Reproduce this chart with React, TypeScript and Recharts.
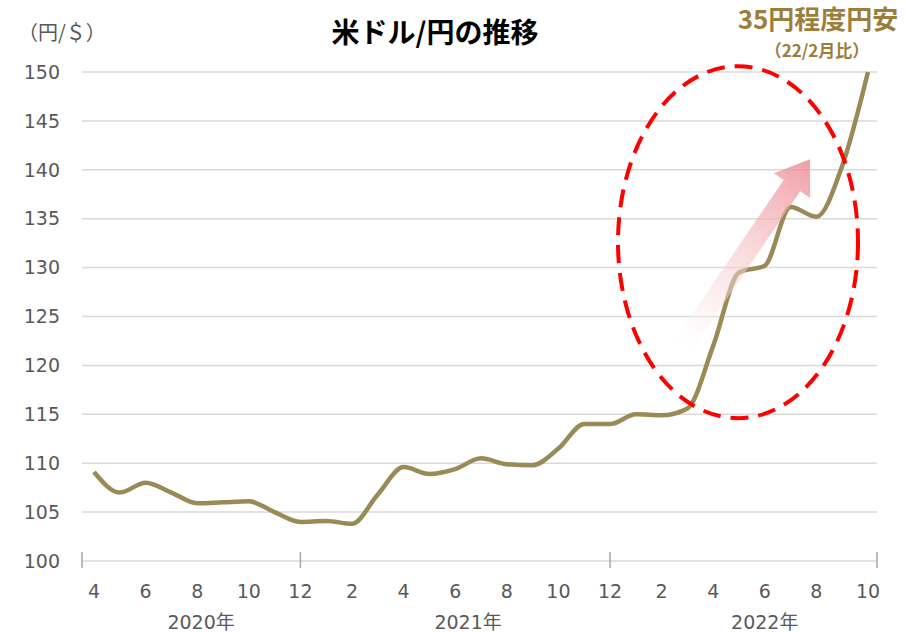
import { CartesianGrid, Line, LineChart, ReferenceDot, XAxis, YAxis } from "recharts";

const months = [
  "2020/4", "2020/5", "2020/6", "2020/7", "2020/8", "2020/9", "2020/10", "2020/11", "2020/12",
  "2021/1", "2021/2", "2021/3", "2021/4", "2021/5", "2021/6", "2021/7", "2021/8", "2021/9",
  "2021/10", "2021/11", "2021/12", "2022/1", "2022/2", "2022/3", "2022/4", "2022/5", "2022/6",
  "2022/7", "2022/8", "2022/9", "2022/10"
];

const usdJpy = [
  109.1, 107.0, 108.0, 107.0, 105.9, 106.0, 106.1, 105.0, 104.0,
  104.1, 103.8, 106.8, 109.6, 108.9, 109.4, 110.5, 109.9, 109.8,
  111.5, 114.0, 114.0, 115.0, 114.9, 115.6, 122.0, 129.5, 130.2,
  136.2, 135.2, 140.4, 150.0
];

const yTicks = [100, 105, 110, 115, 120, 125, 130, 135, 140, 145, 150];

// year label: category it sits under, plus a shift in categories
const yearLabels = [
  { month: "2020/8", text: "2020年", shift: 0.15 },
  { month: "2021/6", text: "2021年", shift: 0.5 },
  { month: "2022/6", text: "2022年", shift: 0 }
];

// categories that carry a year-separator tick
const separators = ["2020/12", "2021/12"];

const data = months.map((month, i) => ({ month, rate: usdJpy[i] }));

const NUM_FONT = "'DejaVu Sans', 'Noto Sans CJK JP', sans-serif";
const JP_FONT = "'Noto Sans CJK JP', sans-serif";
const TEXT_GRAY = "#595959";
const GRID = "#d9d9d9";
const STEP = 25.8;
const PAD_LEFT = 12;
const PAD_RIGHT = 9;

function MonthTick(props: any) {
  const { x, y, payload, index } = props;
  const cat: string = payload.value;
  const m = Number(cat.split("/")[1]);
  const year = yearLabels.find((d) => d.month === cat);
  const tickLine = (tx: number) => (
    <line x1={tx} x2={tx} y1={y - 9} y2={y + 7} stroke="#a6a6a6" strokeWidth={1.5} />
  );
  return (
    <g>
      {m % 2 === 0 && (
        <text x={x} y={y + 37} textAnchor="middle" fill={TEXT_GRAY} fontSize={19} fontFamily={NUM_FONT}>
          {m}
        </text>
      )}
      {year && (
        <text
          x={x + year.shift * STEP}
          y={y + 68}
          textAnchor="middle"
          fill={TEXT_GRAY}
          fontSize={19}
          fontFamily={NUM_FONT}
        >
          {year.text}
        </text>
      )}
      {separators.includes(cat) && tickLine(x)}
      {index === 0 && tickLine(x - PAD_LEFT)}
      {index === months.length - 1 && tickLine(x + PAD_RIGHT)}
    </g>
  );
}

function Highlight(props: any) {
  const { cx, cy } = props;
  // arrow: from tail to tip, relative to the ellipse centre
  const tail = { x: cx - 56, y: cy + 103 };
  const tip = { x: cx + 71, y: cy - 83 };
  const dx = tip.x - tail.x;
  const dy = tip.y - tail.y;
  const len = Math.sqrt(dx * dx + dy * dy);
  const ang = (Math.atan2(dy, dx) * 180) / Math.PI;
  const headLen = 32;
  const shaft = 10;
  const head = 22;
  const pts = [
    [0, -shaft],
    [len - headLen, -shaft],
    [len - headLen, -head],
    [len, 0],
    [len - headLen, head],
    [len - headLen, shaft],
    [0, shaft]
  ]
    .map((p) => p.join(","))
    .join(" ");
  return (
    <g>
      <defs>
        <linearGradient id="arrowFill" x1="0" y1="0" x2="1" y2="0">
          <stop offset="0%" stopColor="#ffffff" stopOpacity={0.4} />
          <stop offset="100%" stopColor="#ec8690" stopOpacity={0.8} />
        </linearGradient>
      </defs>
      <polygon
        points={pts}
        fill="url(#arrowFill)"
        transform={`translate(${tail.x},${tail.y}) rotate(${ang})`}
      />
      <ellipse
        cx={cx - 1}
        cy={cy}
        rx={120}
        ry={176}
        fill="none"
        stroke="#ff0000"
        strokeWidth={4}
        strokeDasharray="18 10"
      />
    </g>
  );
}

export default function App() {
  return (
    <div style={{ position: "absolute", left: 0, top: 0, width: 906, height: 632, background: "#fff" }}>
      <LineChart
        width={906}
        height={632}
        data={data}
        margin={{ top: 72, right: 29, bottom: 11, left: 0 }}
      >
        <CartesianGrid vertical={false} stroke={GRID} strokeWidth={1.5} />
        <XAxis
          dataKey="month"
          interval={0}
          height={60}
          axisLine={false}
          tickLine={false}
          tickSize={0}
          tickMargin={0}
          padding={{ left: PAD_LEFT, right: PAD_RIGHT }}
          tick={<MonthTick />}
        />
        <YAxis
          width={82}
          domain={[100, 150]}
          ticks={yTicks}
          axisLine={false}
          tickLine={false}
          tickSize={0}
          tickMargin={22}
          tick={{ fill: TEXT_GRAY, fontSize: 19, fontFamily: NUM_FONT }}
        />
        <Line
          type="monotone"
          dataKey="rate"
          stroke="#998b55"
          strokeWidth={4.5}
          dot={false}
          isAnimationActive={false}
        />
        <ReferenceDot x="2022/5" y={132.6} r={0} shape={<Highlight />} />
        <text x={435} y={43} textAnchor="middle" fontSize={28} fontWeight="bold" fill="#000" fontFamily={JP_FONT}>
          米ドル/円の推移
        </text>
        <text x={18} y={40} fontSize={20} fill={TEXT_GRAY} fontFamily={JP_FONT}>
          （円/＄）
        </text>
        <text x={818} y={29} textAnchor="middle" fontSize={26} fontWeight="bold" fill="#9c7e3c" fontFamily={JP_FONT}>
          35円程度円安
        </text>
        <text x={817} y={57} textAnchor="middle" fontSize={17} fontWeight="bold" fill="#9c7e3c" fontFamily={JP_FONT}>
          （22/2月比）
        </text>
      </LineChart>
    </div>
  );
}
